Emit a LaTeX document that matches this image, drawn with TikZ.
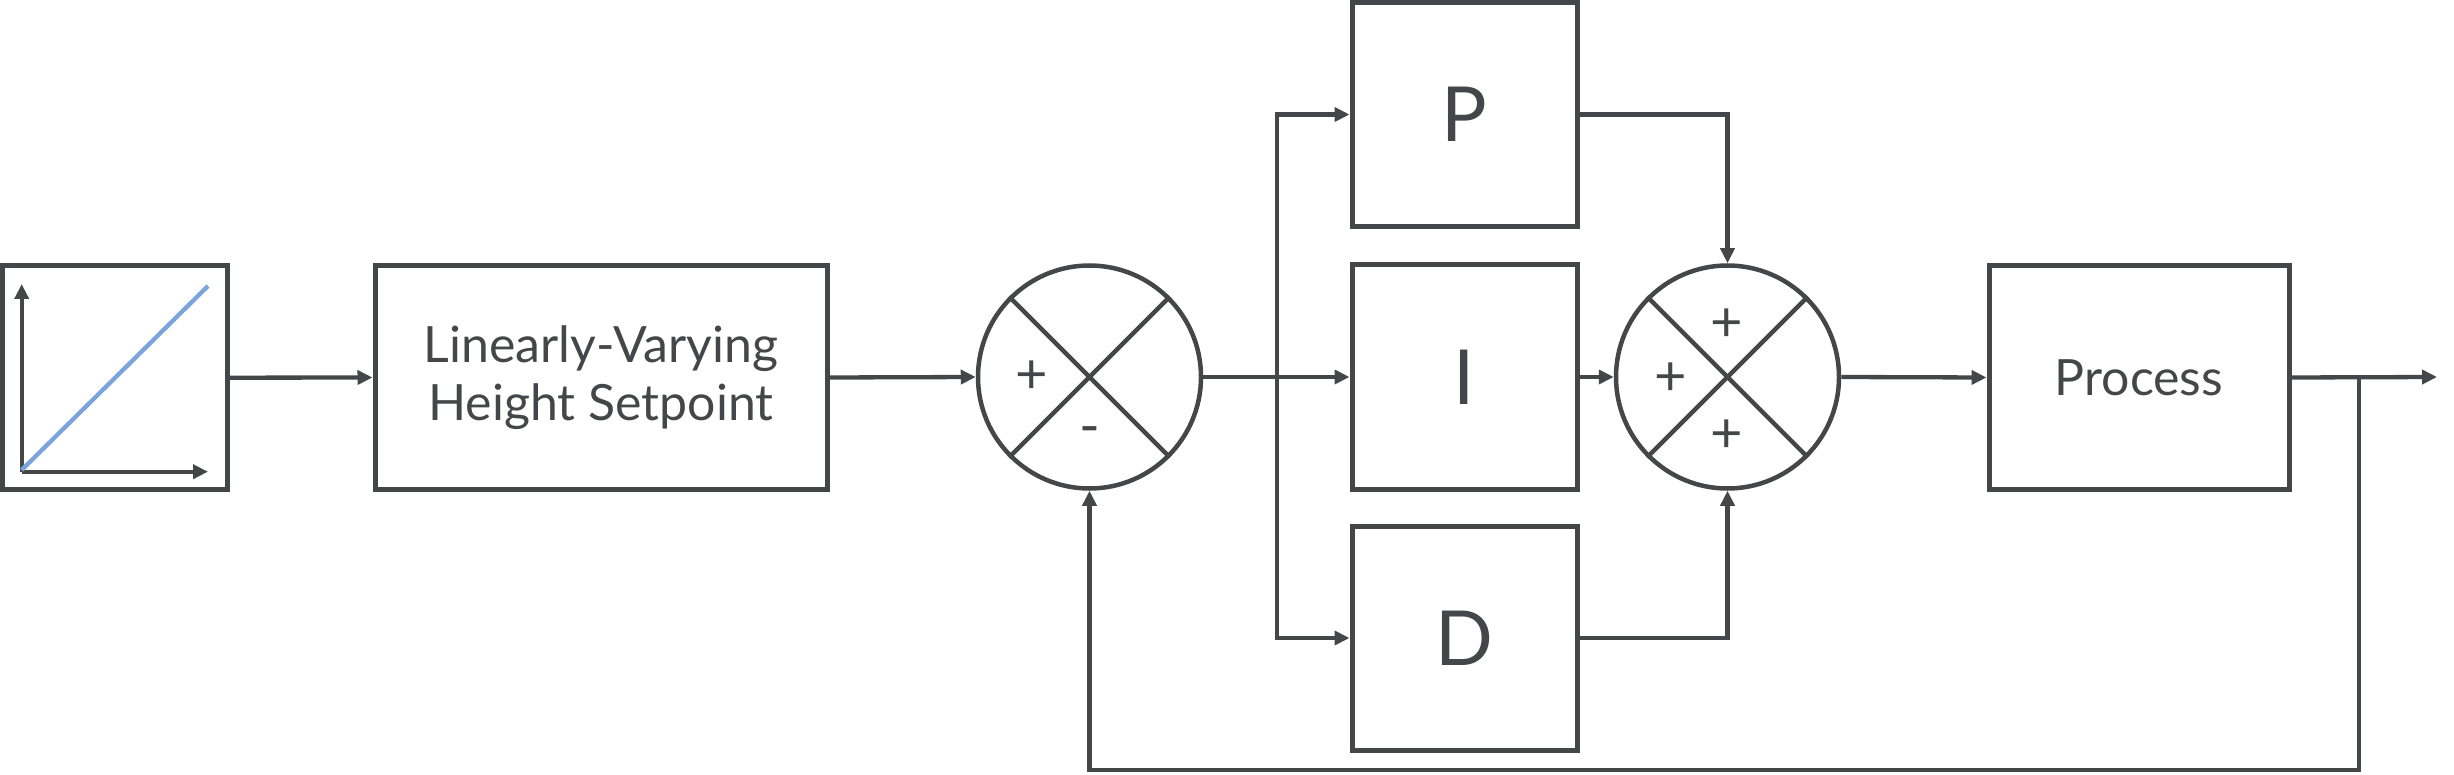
\documentclass[tikz,border=0pt]{standalone}
\usepackage{fontspec}
\setmainfont{Lato}
\usetikzlibrary{arrows.meta}
\definecolor{ink}{RGB}{69,70,74}
\definecolor{ramp}{RGB}{124,164,220}
\tikzset{
  box/.style={draw=ink, line width=5pt, rectangle, minimum height=224pt, inner sep=0pt, text=ink},
  sumc/.style={draw=ink, line width=4.5pt, circle, minimum size=223pt, inner sep=0pt},
  conn/.style={draw=ink, line width=4.3pt},
  arr/.style={conn, -{Triangle[length=15pt,width=14pt]}},
  sign/.style={text=ink, font=\fontsize{56}{56}\selectfont, inner sep=0pt},
  lbl/.style={font=\fontsize{50}{58}\selectfont, align=center},
  big/.style={font=\fontsize{76}{76}\selectfont}
}
\begin{document}
\begin{tikzpicture}[x=1pt,y=-1pt]
\useasboundingbox (0,0) rectangle (2454,775);
% nodes
\node[box, minimum width=225pt] (g) at (115.2,377.7) {};
\node[box, minimum width=452pt, lbl] (sp) at (601,377.5) {Linearly-Varying\\Height Setpoint};
\node[sumc] (s1) at (1089.5,377) {};
\node[box, minimum width=225pt, big] (P) at (1464.5,114.5) {P};
\node[box, minimum width=225pt, big] (I) at (1464.5,377) {I};
\node[box, minimum width=225pt, big] (D) at (1464.5,638) {D};
\node[sumc] (s2) at (1727.5,377) {};
\node[box, minimum width=300pt, lbl] (pr) at (2139,377.5) {Process};
% ramp icon
\coordinate (o) at (21.7,471.7);
\coordinate (ya) at (21.7,284);
\coordinate (xa) at (208,471.7);
\coordinate (re) at (208,286);
\draw[arr] (o) -- (ya);
\draw[arr] (o) -- (xa);
\draw[draw=ramp, line width=4.3pt] (21.7,470) -- (re);
% sum junction crosses
\draw[conn] (s1.45) -- (s1.225);
\draw[conn] (s1.135) -- (s1.315);
\draw[conn] (s2.45) -- (s2.225);
\draw[conn] (s2.135) -- (s2.315);
\node[sign] (s1p) at (1032,377) {+};
\node[sign] (s1m) at (1089.5,436) {-};
\node[sign] (s2t) at (1727,325) {+};
\node[sign] (s2l) at (1671,379) {+};
\node[sign] (s2b) at (1727,436.5) {+};
% connectors
\draw[arr] (g.east) -- (sp.west);
\draw[arr] (sp.east) -- (s1.west);
\coordinate (j) at (1277,377);
\draw[arr] (s1.east) -- (I.west);
\draw[arr] (j) |- (P.west);
\draw[arr] (j) |- (D.west);
\draw[arr] (P.east) -| (s2.north);
\draw[arr] (I.east) -- (s2.west);
\draw[arr] (D.east) -| (s2.south);
\draw[arr] (s2.east) -- (pr.west);
\coordinate (out) at (2437,377);
\draw[arr] (pr.east) -- (out);
\coordinate (fb) at (2359,377);
\coordinate (fbb) at (2359,770);
\draw[arr] (fb) -- (fbb) -| (s1.south);
\end{tikzpicture}
\end{document}
